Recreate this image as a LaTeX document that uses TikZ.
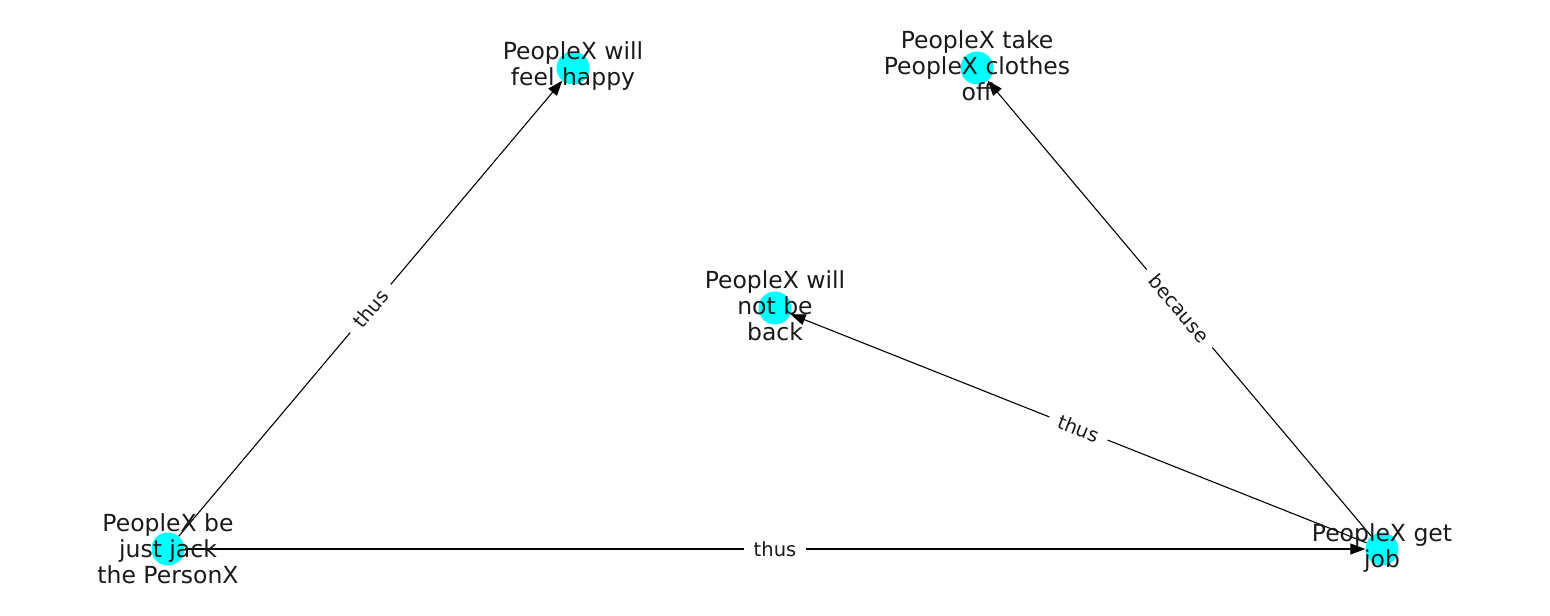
\documentclass[tikz,border=0pt]{standalone}
\usepackage{fontspec}
\setmainfont{DejaVu Sans}
\usetikzlibrary{arrows.meta}
\definecolor{nodecyan}{RGB}{0,255,255}
\definecolor{txt}{RGB}{26,26,26}
\tikzset{
  dot/.style={circle, fill=nodecyan, minimum size=33bp, inner sep=0pt},
  lbl/.style={align=center, text=txt, font=\fontsize{23.5bp}{26bp}\selectfont, inner sep=0pt},
  edge/.style={draw=black, line width=1.1bp, -{Triangle[length=15bp,width=11bp]}},
  elbl/.style={midway, sloped, fill=white, text=txt, font=\fontsize{19.5bp}{22bp}\selectfont, inner xsep=10bp, inner ysep=3bp}
}
\begin{document}
\begin{tikzpicture}[x=1bp,y=-1bp]
\useasboundingbox (0,0) rectangle (1550,616);
\node[dot] (A) at (168,549) {};
\node[dot] (B) at (573,68) {};
\node[dot] (C) at (977,68) {};
\node[dot] (D) at (775,308) {};
\node[dot] (E) at (1382,549) {};
\draw[edge] (A) -- node[elbl] {thus} (B);
\draw[edge] (A) -- node[elbl] {thus} (E);
\draw[edge] (E) -- node[elbl] {thus} (D);
\draw[edge] (E) -- node[elbl] {because} (C);
\node[lbl] (tA) at (168,549) {PeopleX be\\just jack\\the PersonX};
\node[lbl] (tB) at (573,66) {PeopleX will\\feel happy};
\node[lbl] (tC) at (977,66) {PeopleX take\\PeopleX clothes\\off};
\node[lbl] (tD) at (775,306) {PeopleX will\\not be\\back};
\node[lbl] (tE) at (1382,548) {PeopleX get\\job};
\end{tikzpicture}
\end{document}
